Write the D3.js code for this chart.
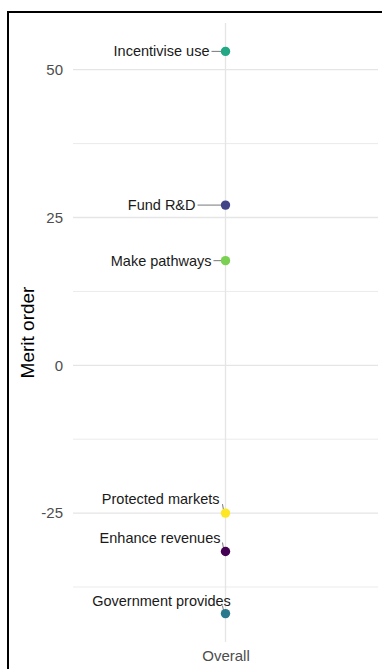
<!DOCTYPE html>
<html><head><meta charset="utf-8">
<script src="https://cdn.jsdelivr.net/npm/d3@7"></script>
<style>body{margin:0;background:#fff;}svg{display:block;font-family:"Liberation Sans",Arial,sans-serif;}</style>
</head><body>
<script>
const categories = ["Enhance revenues","Fund R&D","Government provides","Incentivise use","Make pathways","Protected markets"];
const meritValues = [-31.5, 27.1, -42, 53.1, 17.7, -25];
const groupLabel = ["Overall"];
const yTicks = [-25, 0, 25, 50];
const yMinor = [-37.5, -12.5, 12.5, 37.5];
// label placement (repel-style): side and offsets in px relative to point
const labelPlace = [
  {anchor:"end", dx:-5, dy:-14, seg:"up"},
  {anchor:"end", dx:-30, dy:0, seg:"left"},
  {anchor:"middle", dx:-64, dy:-13, seg:"up"},
  {anchor:"end", dx:-16, dy:0, seg:"left"},
  {anchor:"end", dx:-14, dy:0, seg:"left"},
  {anchor:"end", dx:-6, dy:-14, seg:"up"}
];

const W=382,H=669;
const svg=d3.select("body").append("svg").attr("width",W).attr("height",H);
const m={left:73,right:378,top:23,bottom:642};
const y=d3.scaleLinear().domain([-46.8,57.9]).range([m.bottom,m.top]);
const x=d3.scalePoint().domain(groupLabel).range([m.left,m.right]).padding(0.5);
const color=d3.scaleOrdinal().domain(categories).range(categories.map((d,i)=>d3.interpolateViridis(i/(categories.length-1))));

svg.append("rect").attr("x",8).attr("y",12).attr("width",W).attr("height",H).attr("fill","none").attr("stroke","#000").attr("stroke-width",2);

const g=svg.append("g");
g.selectAll(".minor").data(yMinor).join("line").attr("x1",m.left).attr("x2",m.right).attr("y1",d=>y(d)).attr("y2",d=>y(d)).attr("stroke","#ebebeb").attr("stroke-width",1);
g.selectAll(".major").data(yTicks).join("line").attr("x1",m.left).attr("x2",m.right).attr("y1",d=>y(d)).attr("y2",d=>y(d)).attr("stroke","#e5e5e5").attr("stroke-width",1.3);
g.selectAll(".vx").data(groupLabel).join("line").attr("x1",d=>x(d)).attr("x2",d=>x(d)).attr("y1",m.top).attr("y2",m.bottom).attr("stroke","#e5e5e5").attr("stroke-width",1.3);

const yAxis=d3.axisLeft(y).tickValues(yTicks).tickSize(0).tickPadding(10).tickFormat(d=>String(d));
const ya=svg.append("g").attr("transform",`translate(${m.left},0)`).call(yAxis);
ya.select(".domain").remove();
ya.selectAll("text").attr("font-size",15).attr("fill","#4d4d4d").attr("font-family","Liberation Sans, Arial, sans-serif");

const xAxis=d3.axisBottom(x).tickSize(0).tickPadding(8);
const xa=svg.append("g").attr("transform",`translate(0,${m.bottom})`).call(xAxis);
xa.select(".domain").remove();
xa.selectAll("text").attr("font-size",15).attr("fill","#4d4d4d").attr("font-family","Liberation Sans, Arial, sans-serif");

svg.append("text").attr("transform",`translate(34,${(m.top+m.bottom)/2}) rotate(-90)`).attr("text-anchor","middle").attr("font-size",19).attr("fill","#000").text("Merit order");

const data=categories.map((c,i)=>({c,v:meritValues[i],p:labelPlace[i]}));
const cx=x("Overall");
data.forEach(d=>{
  const py=y(d.v);
  const tx=cx+d.p.dx, ty=py+d.p.dy;
  if(d.p.seg==="left"){
    g.append("line").attr("x1",tx+2).attr("x2",cx).attr("y1",py).attr("y2",py).attr("stroke","#555").attr("stroke-width",0.8);
  } else {
    g.append("line").attr("x1",cx-3).attr("x2",cx-2).attr("y1",ty+5).attr("y2",py-3).attr("stroke","#555").attr("stroke-width",0.8);
  }
  g.append("text").attr("x",tx).attr("y",ty).attr("dy","0.35em").attr("text-anchor",d.p.anchor).attr("font-size",14.5).attr("fill","#1a1a1a").text(d.c);
});
g.selectAll(".pt").data(data).join("circle").attr("cx",cx).attr("cy",d=>y(d.v)).attr("r",4.7).attr("fill",d=>color(d.c));
</script>
</body></html>
